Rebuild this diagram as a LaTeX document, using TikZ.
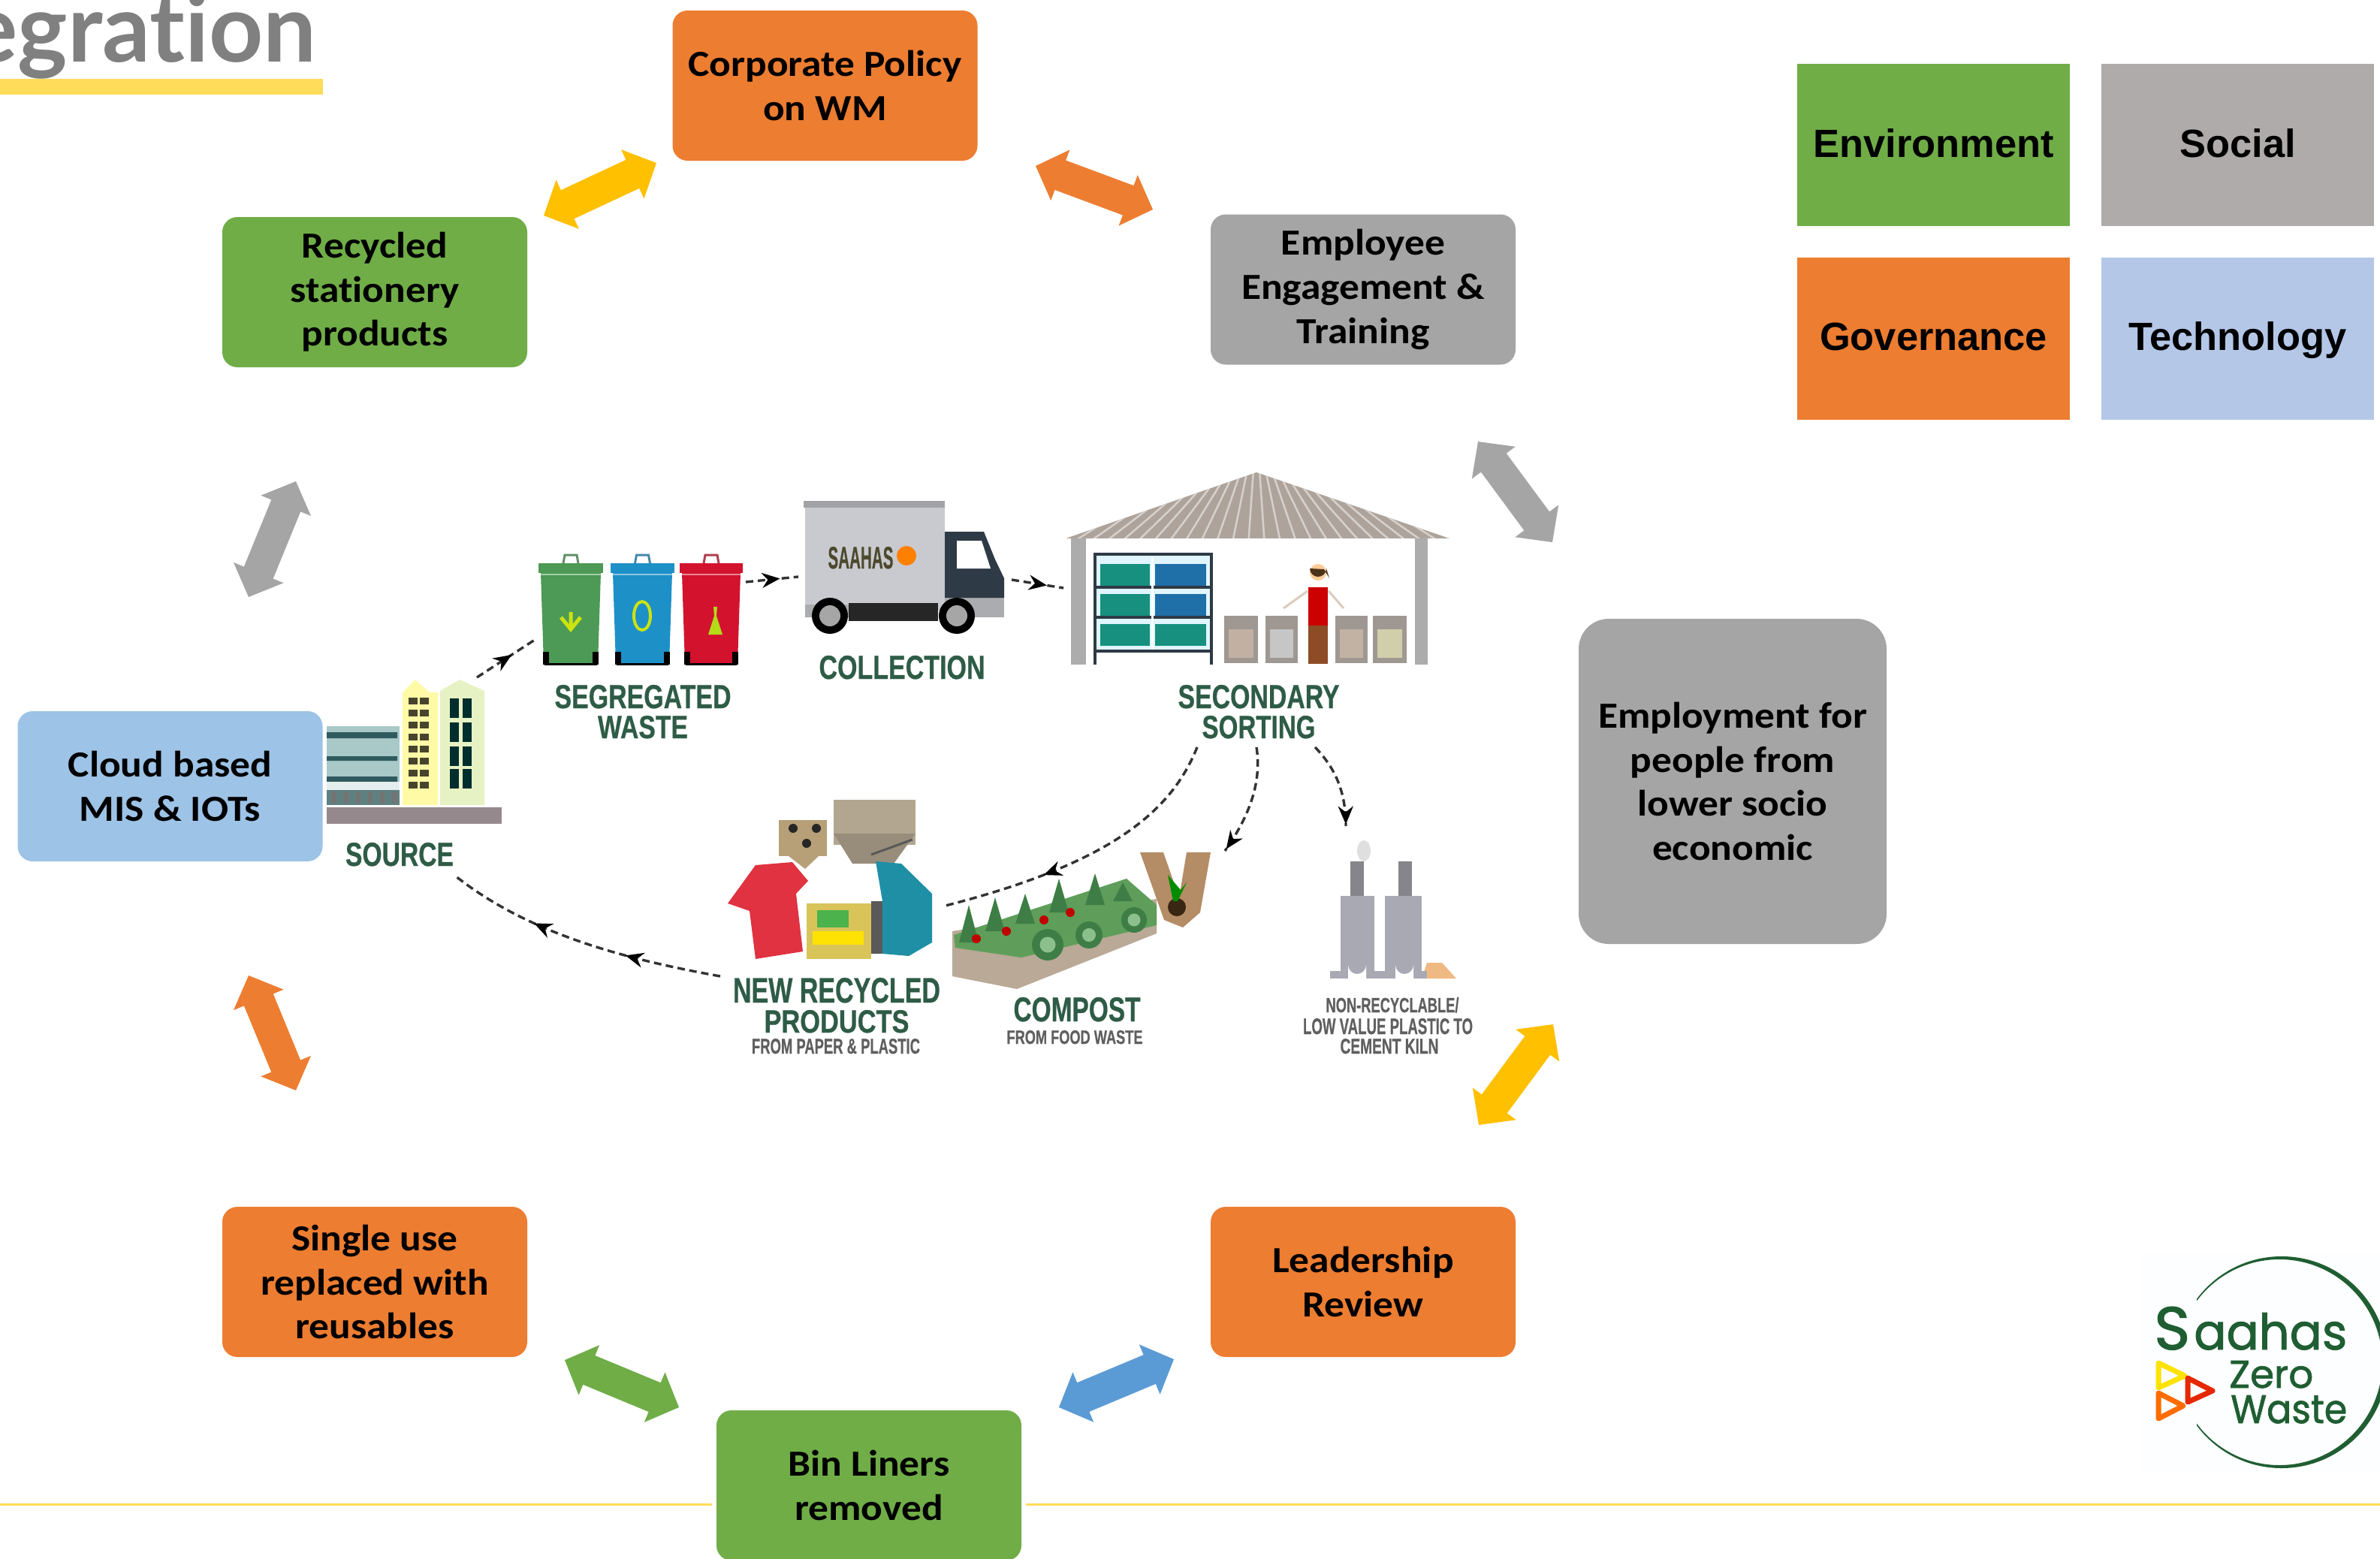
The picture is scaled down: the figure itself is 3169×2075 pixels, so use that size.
\documentclass[tikz,border=0pt]{standalone}
\usepackage{fontspec}
\usepackage{graphicx}
\usetikzlibrary{calc,arrows.meta,decorations.markings}
\setmainfont{Liberation Sans}[BoldFeatures={FakeBold=0.6}]
\newfontfamily\boxfont{Carlito}[Ligatures=NoCommon,FakeStretch=1.09]
\newfontfamily\legendfont{Liberation Sans}
\newfontfamily\titlefont{Lato}[Ligatures=NoCommon]
\newfontfamily\logofont{Poppins}[FakeBold=1.4]
\definecolor{envgreen}{HTML}{70AD47}
\definecolor{govorange}{HTML}{ED7D31}
\definecolor{boxgrey}{HTML}{A5A5A5}
\definecolor{legendgrey}{HTML}{AFABAB}
\definecolor{techblue}{HTML}{B4C7E7}
\definecolor{cloudblue}{HTML}{9DC3E6}
\definecolor{gold}{HTML}{FFC000}
\definecolor{arrowblue}{HTML}{5B9BD5}
\definecolor{barcol}{HTML}{FFDC5A}
\definecolor{labelgreen}{HTML}{2E5C46}
\definecolor{labelgrey}{HTML}{5F5F5F}
\definecolor{logogreen}{HTML}{1F5E32}
\definecolor{shelfteal}{HTML}{17907F}
\definecolor{shelfblue}{HTML}{1F6FA8}
\definecolor{roofc}{HTML}{ADA39A}
\definecolor{truckc}{HTML}{C9CACF}
\definecolor{cabc}{HTML}{2E3A45}
\definecolor{armc}{HTML}{B48C66}
\definecolor{lowbld}{HTML}{A9C8C8}
\definecolor{lowdark}{HTML}{2F5A60}
\definecolor{lowbase}{HTML}{5F8080}
\definecolor{ground}{HTML}{96898E}
\definecolor{bingreen}{HTML}{4C9A55}
\definecolor{binblue}{HTML}{1E90C8}
\definecolor{binred}{HTML}{D3122E}
\definecolor{kilnbody}{HTML}{A9A9B4}
\definecolor{kilnstack}{HTML}{85858B}
\definecolor{woodc}{HTML}{B9A996}
\definecolor{plantc}{HTML}{5E9E5A}
\definecolor{plantdark}{HTML}{3E7E46}
\definecolor{cabbage}{HTML}{8CC08A}
\definecolor{eggc}{HTML}{B79F78}
\definecolor{cardc}{HTML}{B3A690}
\definecolor{shirtc}{HTML}{E03240}
\definecolor{packc}{HTML}{D9C45A}
\definecolor{bagc}{HTML}{1F8FA5}
\newcommand{\blockarrow}[3]{\fill[#1] (#2) -- ($(#2)!35pt!(#3)!36pt!90:(#3)$) -- ($(#2)!35pt!(#3)!21pt!90:(#3)$) -- ($(#3)!35pt!(#2)!21pt!-90:(#2)$) -- ($(#3)!35pt!(#2)!36pt!-90:(#2)$) -- (#3) -- ($(#3)!35pt!(#2)!36pt!90:(#2)$) -- ($(#3)!35pt!(#2)!21pt!90:(#2)$) -- ($(#2)!35pt!(#3)!21pt!-90:(#3)$) -- ($(#2)!35pt!(#3)!36pt!-90:(#3)$) -- cycle;}
\newcommand{\fitlabel}[3]{\resizebox{#1pt}{#2pt}{\bfseries #3}}
\tikzset{
  stagebox/.style={rounded corners=20pt,inner sep=0pt,minimum width=406pt,minimum height=200pt,align=center,text=black,
    font=\boxfont\bfseries\fontsize{49}{58.6}\selectfont},
  legendbox/.style={inner sep=0pt,minimum width=363pt,minimum height=216pt,align=center,text=black,text height=32pt,text depth=0pt,
    font=\legendfont\bfseries\fontsize{52.4}{60}\selectfont},
  illgreen/.style={anchor=base,inner sep=0pt,text=labelgreen},
  illgrey/.style={anchor=base,inner sep=0pt,text=labelgrey},
  logotext/.style={anchor=base west,inner sep=0pt,text=logogreen,font=\logofont},
  dashflow/.style={draw=black!80,line width=3.4pt,dash pattern=on 10pt off 6pt},
  tipat/.style={postaction={decorate},decoration={markings,mark=at position #1 with {\arrow{Stealth[length=24pt,width=20pt,black]}}}},
  tipattwo/.style 2 args={postaction={decorate},decoration={markings,mark=at position #1 with {\arrow{Stealth[length=24pt,width=20pt,black]}},mark=at position #2 with {\arrow{Stealth[length=24pt,width=20pt,black]}}}}
}
\begin{document}
\begin{tikzpicture}[x=1pt,y=-1pt]
\useasboundingbox (0,0) rectangle (3169,2075);
\clip (0,0) rectangle (3169,2075);
\fill[white] (0,0) rectangle (3169,2075);

% title
\node[anchor=base east,inner sep=0pt,text=black!50,font=\titlefont\bfseries\fontsize{126}{130}\selectfont] (title) at (422,82) {egration};
\fill[barcol] (0,105) rectangle (430,126);

% footer rule
\coordinate (ruleA) at (0,2003); \coordinate (ruleB) at (948,2003);
\coordinate (ruleC) at (1366,2003); \coordinate (ruleD) at (3169,2003);
\draw[barcol,line width=3pt] (ruleA) -- (ruleB) (ruleC) -- (ruleD);

% ---------- central illustration ----------
% source buildings
\fill[lowbld] (435,967) rectangle (532,1072);
\fill[lowdark] (435,975) rectangle (529,983) (435,1007) rectangle (529,1013) (435,1034) rectangle (529,1041);
\fill[white!70!lowbld] (435,1041) rectangle (532,1052);
\fill[lowbase] (435,1052) rectangle (532,1072);
\foreach \bx in {442,458,474,490,506,522} \fill[black!55] (\bx,1054) rectangle ++(6,16);
\fill[yellow!35!white] (536,1072) -- (536,922) -- (553,905) -- (572,922) -- (583,922) -- (583,1072) -- cycle;
\foreach \wy in {929,945,961,977,993,1009,1025,1041} {
  \fill[black!65!olive] (544,\wy) rectangle ++(12,9);
  \fill[black!65!olive] (559,\wy) rectangle ++(12,9);
}
\fill[green!25!yellow!20!white!90!gray] (586,1072) -- (586,920) -- (612,905) -- (645,920) -- (645,1072) -- cycle;
\foreach \wy in {930,962,994,1024} {
  \fill[black!65!teal] (599,\wy) rectangle ++(12,26);
  \fill[black!65!teal] (616,\wy) rectangle ++(12,26);
}
\fill[ground] (435,1075) rectangle (668,1097);
\node[illgreen] (lblSource) at (532,1153) {\fitlabel{144}{31}{SOURCE}};

% bins
\foreach \bl/\br/\bc in {717/803/bingreen,813/898/binblue,905/989/binred} {
  \fill[\bc] (\bl,750) rectangle (\br,763);
  \fill[\bc] (\bl+3,763) -- (\br-3,763) -- (\br-7,885) -- (\bl+7,885) -- cycle;
  \draw[\bc!60!gray,line width=3pt] ({(\bl+\br)/2-10},750) -- ++(2,-11) -- ++(16,0) -- ++(2,11);
  \draw[white,opacity=.5,line width=2pt] (\bl+2,765) -- (\br-2,765);
  \fill[black] (\bl+6,868) rectangle ++(8,17);
  \fill[black] (\br-14,868) rectangle ++(8,17);
  \fill[black] (\bl+8,883) rectangle (\br-8,886);
}
% bin symbols
\draw[yellow!80!green,line width=5pt] (760,815) -- (760,838) (747,822) -- (760,838) -- (773,822);
\draw[yellow!80!green,line width=4pt] (855,820) circle[x radius=11,y radius=19];
\fill[yellow!70!green] (950,808) -- (955,808) -- (954,820) -- (962,845) -- (943,845) -- (951,820) -- cycle;
\node[illgreen] (lblSeg) at (856,943) {\fitlabel{235}{31}{SEGREGATED}};
\node[illgreen] (lblWaste) at (856,983) {\fitlabel{120}{30}{WASTE}};

% truck
\fill[truckc] (1072,675) rectangle (1258,813);
\fill[truckc!80!black] (1070,667) rectangle (1258,676);
\fill[truckc!85!black] (1258,793) rectangle (1337,822);
\fill[truckc!85!black] (1072,805) rectangle (1130,822);
\fill[cabc] (1258,708) -- (1310,708) -- (1325,745) -- (1337,770) -- (1337,796) -- (1258,796) -- cycle;
\fill[white] (1274,720) -- (1307,720) -- (1319,757) -- (1274,757) -- cycle;
\fill[black!85] (1130,803) rectangle (1249,827);
\foreach \wx in {1105,1274} {
  \fill[black] (\wx,820) circle[radius=24];
  \fill[gray!70] (\wx,820) circle[radius=14];
}
\node[inner sep=0pt,anchor=base,text=black!60!olive] (truckName) at (1146,757) {\fitlabel{87}{29}{SAAHAS}};
\fill[orange] (1207,740) circle[radius=13];
\node[illgreen] (lblColl) at (1201,904) {\fitlabel{221}{31}{COLLECTION}};

% shed
\begin{scope}
  \clip (1673,629) -- (1930,717) -- (1419,717) -- cycle;
  \fill[roofc] (1419,629) rectangle (1930,717);
  \foreach \sx in {-25,-23,...,25} \draw[white!50!roofc,line width=2.5pt] ({1673+\sx*4},625) -- ({1673+\sx*10.5},720);
\end{scope}
\fill[gray!65] (1426,717) rectangle (1446,885);
\fill[gray!65] (1884,717) rectangle (1901,885);
\fill[cyan!12!white] (1457,738) rectangle (1614,867);
\foreach \sy in {745,785,825} {
  \fill[shelfteal] (1465,\sy+6) rectangle (1531,\sy+35);
}
\fill[shelfblue] (1538,751) rectangle (1606,780);
\fill[shelfblue] (1538,791) rectangle (1606,820);
\fill[shelfteal] (1538,831) rectangle (1606,860);
\draw[cabc,line width=4pt] (1458,885) -- (1458,738) -- (1613,738) -- (1613,885) (1458,782) -- (1613,782) (1458,822) -- (1613,822) (1458,867) -- (1613,867);
\draw[white,line width=3pt] (1534,742) -- (1534,865);
\foreach \gl/\gr/\gc in {1630/1675/red!10!orange!20!gray!60,1685/1728/gray!45,1778/1821/orange!20!gray!60,1828/1873/yellow!30!gray!60} {
  \fill[roofc!70!gray] (\gl,820) rectangle (\gr,883);
  \fill[\gc] (\gl+6,838) rectangle (\gr-6,876);
}
\draw[orange!30!gray!40!white,line width=3pt] (1741,787) -- (1709,810) (1769,787) -- (1789,810);
\fill[orange!40!white] (1755,762) circle[radius=11];
\fill[black!60!brown] (1744,757) arc[start angle=180,end angle=0,radius=11] -- (1770,770) -- (1763,758) -- cycle;
\fill[red!80!black] (1742,782) rectangle (1768,833);
\fill[brown!85!red!70!black] (1742,833) rectangle (1768,884);
\node[illgreen] (lblSec) at (1676,943) {\fitlabel{215}{31}{SECONDARY}};
\node[illgreen] (lblSort) at (1676,983) {\fitlabel{151}{30}{SORTING}};

% recycled products
\fill[cardc] (1110,1065) rectangle (1219,1125);
\fill[cardc!85!black] (1110,1110) -- (1219,1110) -- (1190,1150) -- (1135,1150) -- cycle;
\draw[black!65,line width=3pt] (1160,1138) -- (1215,1118);
\fill[eggc] (1037,1092) rectangle (1101,1140);
\fill[eggc] (1050,1140) -- (1090,1140) -- (1072,1157) -- cycle;
\foreach \hx/\hy in {1056/1103,1087/1103,1074/1123} \fill[black!85] (\hx,\hy) circle[radius=6];
\fill[shirtc] (969,1203) -- (1006,1152) -- (1055,1148) -- (1076,1173) -- (1060,1190) -- (1069,1267) -- (1006,1277) -- (998,1213) -- cycle;
\fill[black!65] (1160,1200) rectangle (1180,1270);
\fill[bagc] (1166,1147) -- (1200,1150) -- (1241,1190) -- (1241,1255) -- (1210,1273) -- (1175,1270) -- (1175,1200) -- cycle;
\fill[packc] (1074,1203) rectangle (1160,1277);
\fill[green!40!gray] (1088,1212) rectangle (1130,1235);
\fill[yellow!85!orange] (1082,1240) rectangle (1150,1258);
\node[illgreen] (lblNew) at (1114,1335) {\fitlabel{276}{33}{NEW RECYCLED}};
\node[illgreen] (lblProd) at (1114,1375) {\fitlabel{193}{30}{PRODUCTS}};
\node[illgrey] (lblPaper) at (1113,1403) {\fitlabel{224}{20}{FROM PAPER \& PLASTIC}};

% compost bed
\fill[woodc] (1268,1240) -- (1540,1197) -- (1540,1243) -- (1354,1317) -- (1268,1300) -- cycle;
\fill[plantc] (1270,1245) -- (1500,1170) -- (1540,1205) -- (1540,1232) -- (1360,1275) -- (1272,1262) -- cycle;
\foreach \px/\py/\pt in {1290/1255/1205,1325/1240/1195,1365/1230/1190,1410/1215/1170,1458/1205/1163,1495/1200/1175} {
  \fill[plantdark] (\px-13,\py) -- (\px,\pt) -- (\px+13,\py) -- cycle;
}
\foreach \cx/\cy/\cr in {1395/1258/21,1450/1245/18,1510/1225/17} {
  \fill[plantdark] (\cx,\cy) circle[radius=\cr];
  \fill[cabbage] (\cx,\cy) circle[radius=\cr/2];
}
\foreach \rx/\ry in {1300/1250,1390/1225,1425/1215,1340/1240} \fill[red!75!black] (\rx,\ry) circle[radius=6];
\fill[armc] (1518,1135) -- (1549,1135) -- (1570,1195) -- (1580,1135) -- (1612,1135) -- (1598,1215) -- (1575,1235) -- (1550,1225) -- cycle;
\fill[black!70!brown] (1567,1208) circle[radius=12];
\fill[green!55!black] (1562,1200) -- (1555,1165) -- (1572,1185) -- (1580,1175) -- (1568,1200) -- cycle;
\node[illgreen] (lblCompost) at (1434,1360) {\fitlabel{169}{32}{COMPOST}};
\node[illgrey] (lblFood) at (1431,1390) {\fitlabel{181}{18}{FROM FOOD WASTE}};

% kiln
\fill[gray!25] (1816,1133) circle[x radius=9,y radius=14];
\fill[kilnstack] (1798,1147) rectangle (1816,1193);
\fill[kilnstack] (1862,1147) rectangle (1880,1193);
\fill[kilnbody] (1785,1193) rectangle (1830,1293);
\fill[kilnbody] (1844,1193) rectangle (1893,1293);
\fill[brown!45!orange!55!white] (1893,1303) -- (1900,1282) -- (1920,1282) -- (1939,1303) -- cycle;
\fill[kilnbody] (1771,1293) rectangle (1900,1303);
\fill[white] (1795,1303) -- (1795,1285) arc[start angle=180,end angle=0,radius=12] -- (1819,1303) -- cycle;
\fill[white] (1858,1303) -- (1858,1285) arc[start angle=180,end angle=0,radius=12] -- (1882,1303) -- cycle;
\node[illgrey] (lblNon) at (1854,1348) {\fitlabel{177}{20}{NON-RECYCLABLE/}};
\node[illgrey] (lblLow) at (1848,1377) {\fitlabel{226}{21}{LOW VALUE PLASTIC TO}};
\node[illgrey] (lblKiln) at (1850,1403) {\fitlabel{131}{20}{CEMENT KILN}};

% dashed flows
\coordinate (fSrcA) at (635,902);   \coordinate (fSrcB) at (712,852);
\coordinate (fBinA) at (993,775);   \coordinate (fBinB) at (1063,768);
\coordinate (fTrkA) at (1347,772);  \coordinate (fTrkB) at (1416,783);
\coordinate (fSecA) at (1594,995);  \coordinate (fSecB) at (1255,1207);
\coordinate (fComA) at (1673,995);  \coordinate (fComB) at (1631,1133);
\coordinate (fKilA) at (1751,995);  \coordinate (fKilB) at (1792,1100);
\coordinate (fNewA) at (959,1300);  \coordinate (fNewB) at (607,1167);
\draw[dashflow,tipat=0.6] (fSrcA) -- (fSrcB);
\draw[dashflow,tipat=0.65] (fBinA) -- (fBinB);
\draw[dashflow,tipat=0.68] (fTrkA) -- (fTrkB);
\draw[dashflow,tipat=0.66] (fSecA) .. controls (1560,1080) and (1480,1150) .. (fSecB);
\draw[dashflow,tipat=0.98] (fComA) .. controls (1680,1040) and (1665,1085) .. (fComB);
\draw[dashflow,tipat=0.98] (fKilA) .. controls (1775,1020) and (1792,1050) .. (fKilB);
\draw[dashflow,tipattwo={0.34}{0.68}] (fNewA) .. controls (820,1275) and (700,1240) .. (fNewB);

% ---------- stage boxes ----------
\node[stagebox,fill=govorange] (corp) at (1098.5,114) {Corporate Policy\\on WM};
\node[stagebox,fill=envgreen] (recyc) at (499,389) {Recycled\\stationery\\products};
\node[stagebox,fill=boxgrey] (employee) at (1815,385.5) {Employee\\Engagement \&\\Training};
\node[stagebox,fill=boxgrey,minimum width=410pt,minimum height=433pt,rounded corners=40pt] (jobs) at (2307,1040.5) {Employment for\\people from\\lower socio\\economic};
\node[stagebox,fill=govorange] (leader) at (1815,1707) {Leadership\\Review};
\node[stagebox,fill=envgreen] (bin) at (1157,1978) {Bin Liners\\removed};
\node[stagebox,fill=govorange] (single) at (499,1707) {Single use\\replaced with\\reusables};
\node[stagebox,fill=cloudblue] (cloud) at (226.5,1047) {Cloud based\\MIS \& IOTs};

% ---------- block arrows ----------
\coordinate (a1a) at (724,287);   \coordinate (a1b) at (874,217);
\coordinate (a2a) at (1379,221);  \coordinate (a2b) at (1535,279);
\coordinate (a3a) at (1968,588);  \coordinate (a3b) at (2067,722);
\coordinate (a4a) at (2068,1364); \coordinate (a4b) at (1969,1498);
\coordinate (a5a) at (1563,1810); \coordinate (a5b) at (1410,1874);
\coordinate (a6a) at (752,1811);  \coordinate (a6b) at (904,1874);
\coordinate (a7a) at (331,1299);  \coordinate (a7b) at (394,1452);
\coordinate (a8a) at (394,641);   \coordinate (a8b) at (331,795);
\blockarrow{gold}{a1a}{a1b}
\blockarrow{govorange}{a2a}{a2b}
\blockarrow{boxgrey}{a3a}{a3b}
\blockarrow{gold}{a4a}{a4b}
\blockarrow{arrowblue}{a5a}{a5b}
\blockarrow{envgreen}{a6a}{a6b}
\blockarrow{govorange}{a7a}{a7b}
\blockarrow{boxgrey}{a8a}{a8b}

% ---------- legend ----------
\node[legendbox,fill=envgreen] (lgEnv) at (2574.5,193) {Environment};
\node[legendbox,fill=legendgrey] (lgSoc) at (2979.5,193) {Social};
\node[legendbox,fill=govorange] (lgGov) at (2574.5,450.5) {Governance};
\node[legendbox,fill=techblue] (lgTech) at (2979.5,450.5) {Technology};

% ---------- logo ----------
\fill[cyan!1!white] (2852,1670) rectangle (3169,1960);
\begin{scope}
  \clip (2925,1660) rectangle (3169,1970);
  \fill[logogreen,even odd rule] (3038,1814) circle[radius=141] (3035,1814) circle[radius=137];
\end{scope}
\node[logotext] (logoA) at (2868,1797) {\resizebox{48pt}{57pt}{\logofont S}\hspace{5pt}\resizebox{204pt}{49pt}{\logofont aahas}};
\node[logotext] (logoB) at (2968,1848) {\resizebox{112pt}{36pt}{\logofont Zero}};
\node[logotext] (logoC) at (2970,1895) {\resizebox{155pt}{37pt}{\logofont Waste}};
\draw[yellow!85!orange,line width=7pt,line join=round] (2874,1815) -- (2909,1832) -- (2874,1848) -- cycle;
\draw[red!65!orange!90!black,line width=7pt,line join=round] (2913,1835) -- (2946,1852) -- (2913,1867) -- cycle;
\draw[orange!85!red,line width=7pt,line join=round] (2874,1855) -- (2907,1872) -- (2874,1889) -- cycle;
\end{tikzpicture}
\end{document}
